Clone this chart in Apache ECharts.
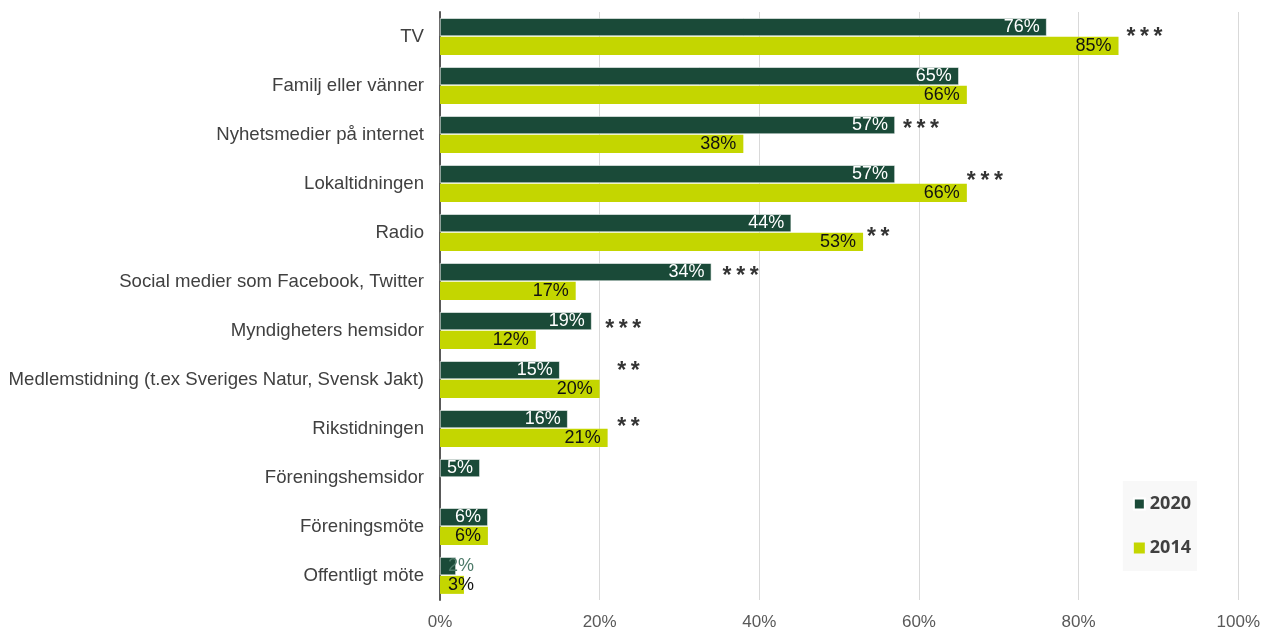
<!DOCTYPE html>
<html>
<head>
<meta charset="utf-8">
<script src="https://cdn.jsdelivr.net/npm/echarts@6/dist/echarts.min.js"></script>
<style>
  html, body { margin: 0; padding: 0; background: #fff; }
  #main { width: 1263px; height: 631px; }
</style>
</head>
<body>
<div id="main"></div>
<script>
// kategorier, uppifrån och ned
const categories = [
  'TV',
  'Familj eller vänner',
  'Nyhetsmedier på internet',
  'Lokaltidningen',
  'Radio',
  'Social medier som Facebook, Twitter',
  'Myndigheters hemsidor',
  'Medlemstidning (t.ex Sveriges Natur, Svensk Jakt)',
  'Rikstidningen',
  'Föreningshemsidor',
  'Föreningsmöte',
  'Offentligt möte'
]
const values2020 = [76, 65, 57, 57, 44, 34, 19, 15, 16, 5, 6, 2]
const values2014 = [85, 66, 38, 66, 53, 17, 12, 20, 21, null, 6, 3]
const xTicks = [0, 20, 40, 60, 80, 100]

// signifikansmarkeringar: kategori, x-läge (%), antal stjärnor
const sigCategory = ['TV', 'Nyhetsmedier på internet', 'Lokaltidningen', 'Radio',
  'Social medier som Facebook, Twitter', 'Myndigheters hemsidor',
  'Medlemstidning (t.ex Sveriges Natur, Svensk Jakt)', 'Rikstidningen']
const sigX = [86, 58, 66, 53.5, 35.4, 20.7, 22.2, 22.2]
const sigStars = [3, 3, 3, 2, 3, 3, 2, 2]
const sigShift = [1, -5, -2, 5, -5, -1, -8, -1]

const dark = '#1a4a38'
const lime = '#c4d600'

const chart = echarts.init(document.getElementById('main'))

// små staplar: etiketten läggs från vänsterkanten och går utanför stapeln
function smallLabel (v, color) {
  if (v !== null && v < 4) {
    return { value: v, label: { position: 'insideLeft', distance: 8, color: color } }
  }
  return v
}
const bars2020 = values2020.map(function (v) { return smallLabel(v, '#4d7a69') })
const bars2014 = values2014.map(function (v) { return smallLabel(v, '#111111') })

const sigData = sigCategory.map(function (c, i) {
  return {
    value: [sigX[i], c],
    label: { formatter: new Array(sigStars[i]).fill('*').join('\u2009'), offset: [0, sigShift[i]] }
  }
})

chart.setOption({
  backgroundColor: '#fff',
  animation: false,
  textStyle: { fontFamily: 'Liberation Sans, Arial, sans-serif' },
  grid: { left: 440, right: 23, top: 12, bottom: 31, containLabel: false },
  legend: {
    data: ['2020', '2014'],
    orient: 'vertical',
    right: 66,
    top: 481,
    padding: [14, 6, 14, 10],
    itemGap: 26,
    itemWidth: 11,
    itemHeight: 11,
    icon: 'rect',
    backgroundColor: '#f8f8f8',
    textStyle: { fontSize: 18, fontWeight: 'bold', color: '#404040', fontFamily: 'Open Sans, Liberation Sans, sans-serif' }
  },
  xAxis: {
    type: 'value',
    min: 0,
    max: 100,
    interval: 20,
    axisLine: { show: false },
    axisTick: { show: false },
    axisLabel: {
      color: '#595959',
      fontSize: 17,
      margin: 14,
      formatter: function (v) { return xTicks.indexOf(v) >= 0 ? v + '%' : '' }
    },
    splitLine: { show: true, lineStyle: { color: '#d9d9d9', width: 1 } }
  },
  yAxis: {
    type: 'category',
    data: categories,
    inverse: true,
    axisLine: { show: true, lineStyle: { color: '#595959', width: 2 } },
    axisTick: { show: false },
    axisLabel: { color: '#404040', fontSize: 18.6, margin: 16 }
  },
  series: [
    {
      name: '2020',
      type: 'bar',
      data: bars2020,
      barGap: '4%',
      barCategoryGap: '25%',
      itemStyle: { color: dark, borderColor: '#ffffff', borderWidth: 0.6 },
      label: {
        show: true,
        position: 'insideRight',
        distance: 7,
        color: '#ffffff',
        fontSize: 18,
        formatter: '{c}%'
      }
    },
    {
      name: '2014',
      type: 'bar',
      data: bars2014,
      itemStyle: { color: lime },
      label: {
        show: true,
        position: 'insideRight',
        distance: 7,
        color: '#111111',
        fontSize: 18,
        formatter: '{c}%'
      }
    },
    {
      name: 'sig',
      type: 'scatter',
      data: sigData,
      symbolSize: 0,
      silent: true,
      label: {
        show: true,
        position: 'right',
        distance: 0,
        color: '#000000',
        fontSize: 23,
        fontWeight: 'bold'
      }
    }
  ]
})
window.onresize = chart.resize
</script>
</body>
</html>
